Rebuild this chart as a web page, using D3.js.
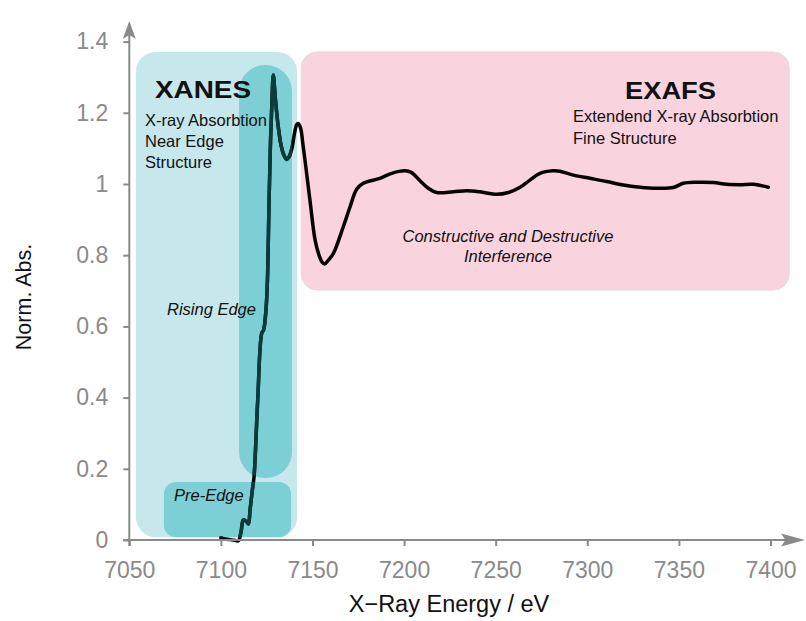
<!DOCTYPE html>
<html>
<head>
<meta charset="utf-8">
<script src="https://cdn.jsdelivr.net/npm/d3@7/dist/d3.min.js"></script>
<style>
  html, body { margin: 0; padding: 0; background: #ffffff; }
  svg { display: block; font-family: "Liberation Sans", Arial, Helvetica, sans-serif; }
</style>
</head>
<body>
<svg id="chart" width="806" height="621"></svg>
<script>
// X-ray absorption spectrum: photon energy (eV) and normalised absorbance
const energy = [
  7100.0, 7102.5, 7105.0, 7107.5, 7109.5, 7111.0, 7112.2, 7113.7, 7115.0, 7115.9,
  7117.4, 7118.1, 7120.1, 7122.3, 7123.3, 7124.6, 7125.4, 7126.3, 7127.1, 7127.9,
  7128.6, 7129.8, 7131.3, 7132.8, 7134.4, 7135.9, 7137.2, 7138.8, 7140.2, 7141.3,
  7142.2, 7143.5, 7144.8, 7145.9, 7148.6, 7151.4, 7153.5, 7155.2, 7156.6, 7158.5,
  7161.4, 7166.8, 7170.5, 7174.1, 7177.7, 7186.8, 7193.2, 7200.5, 7204.1, 7208.7,
  7213.2, 7217.8, 7226.9, 7234.2, 7241.4, 7250.5, 7256.9, 7263.3, 7268.7, 7274.2,
  7281.4, 7285.0, 7292.4, 7301.5, 7310.6, 7319.7, 7328.8, 7337.9, 7346.9, 7352.4,
  7359.7, 7368.8, 7376.1, 7383.4, 7390.6, 7398.8
];
const absorbance = [
  0.006, 0.003, 0.001, -0.001, -0.002, 0.023, 0.056, 0.053, 0.045, 0.084,
  0.150, 0.178, 0.393, 0.581, 0.590, 0.646, 0.730, 0.955, 1.124, 1.236,
  1.306, 1.236, 1.161, 1.110, 1.081, 1.069, 1.076, 1.101, 1.143, 1.166,
  1.170, 1.157, 1.110, 1.067, 0.955, 0.843, 0.801, 0.781, 0.775, 0.785,
  0.805, 0.880, 0.936, 0.985, 1.002, 1.016, 1.030, 1.037, 1.032, 1.009,
  0.988, 0.976, 0.978, 0.981, 0.978, 0.971, 0.976, 0.991, 1.011, 1.030,
  1.037, 1.036, 1.025, 1.016, 1.007, 0.997, 0.991, 0.988, 0.990, 1.002,
  1.005, 1.004, 0.999, 0.998, 0.999, 0.991
];

// Axis ticks
const xTicks = [7050, 7100, 7150, 7200, 7250, 7300, 7350, 7400];
const yTicks = [0, 0.2, 0.4, 0.6, 0.8, 1, 1.2, 1.4];
const yTickLabels = ["0", "0.2", "0.4", "0.6", "0.8", "1", "1.2", "1.4"];

// Spectral regions as [eV start, eV end, absorbance low, absorbance high]
const xanesRegion  = [7053.6, 7141.6, 0.008, 1.371];
const exafsRegion  = [7143.8, 7410.2, 0.702, 1.371];
const risingRegion = [7109.9, 7138.8, 0.174, 1.334];
const preEdgeRegion = [7068.9, 7138.3, 0.008, 0.163];

const svg = d3.select("#chart");

const x = d3.scaleLinear().domain([7050, 7400]).range([129.3, 770.5]);
const y = d3.scaleLinear().domain([0, 1.4]).range([540, 41.6]);

function regionRect(g, r, radius, fill) {
  return g.append("rect")
    .attr("x", x(r[0]))
    .attr("y", y(r[3]))
    .attr("width", x(r[1]) - x(r[0]))
    .attr("height", y(r[2]) - y(r[3]))
    .attr("rx", radius).attr("ry", radius)
    .attr("fill", fill);
}

// Background regions
const bg = svg.append("g");
regionRect(bg, xanesRegion, 20, "#c6e7eb");
regionRect(bg, exafsRegion, 16, "#f9d3de").attr("stroke", "#e6dadd").attr("stroke-width", 1);
regionRect(bg, risingRegion, 26, "#7dcfd6");
regionRect(bg, preEdgeRegion, 12, "#7dcfd6");

// Clip that limits the tinted copy of the curve to the inner XANES boxes
const defs = svg.append("defs");
const clip = defs.append("clipPath").attr("id", "innerBoxes");
regionRect(clip, risingRegion, 26, "#000");
regionRect(clip, preEdgeRegion, 12, "#000");

const series = energy.map((e, i) => [e, absorbance[i]]);
const line = d3.line()
  .x(d => x(d[0]))
  .y(d => y(d[1]))
  .curve(d3.curveCatmullRom.alpha(0.5));

svg.append("path")
  .datum(series)
  .attr("d", line)
  .attr("fill", "none")
  .attr("stroke", "#050505")
  .attr("stroke-width", 3.5)
  .attr("stroke-linejoin", "round")
  .attr("stroke-linecap", "round");

svg.append("path")
  .datum(series)
  .attr("d", line)
  .attr("clip-path", "url(#innerBoxes)")
  .attr("fill", "none")
  .attr("stroke", "#0c3b3a")
  .attr("stroke-width", 3.5)
  .attr("stroke-linejoin", "round")
  .attr("stroke-linecap", "round");

// Axes
const axisColor = "#8a8a8a";

const yAxis = svg.append("g")
  .attr("transform", `translate(${x(7050)},0)`)
  .call(d3.axisLeft(y).tickValues(yTicks).tickSize(6).tickPadding(15)
    .tickFormat((d, i) => yTickLabels[i]));
const xAxis = svg.append("g")
  .attr("transform", `translate(0,${y(0)})`)
  .call(d3.axisBottom(x).tickValues(xTicks).tickSize(6).tickPadding(16)
    .tickFormat(d3.format("d")));

[xAxis, yAxis].forEach(g => {
  g.select(".domain").remove();
  g.selectAll(".tick line").attr("stroke", axisColor).attr("stroke-width", 2);
  g.selectAll(".tick text")
    .attr("fill", axisColor)
    .style("font-size", "23px")
    .style("font-family", "'Liberation Sans', Arial, Helvetica, sans-serif");
});

const x0 = x(7050), y0 = y(0);
svg.append("line")
  .attr("x1", x0).attr("x2", x0).attr("y1", y0 + 6).attr("y2", 34)
  .attr("stroke", axisColor).attr("stroke-width", 2);
svg.append("line")
  .attr("x1", x0 - 6).attr("x2", 788).attr("y1", y0).attr("y2", y0)
  .attr("stroke", axisColor).attr("stroke-width", 2);

// Arrow heads
svg.append("path")
  .attr("d", `M${x0},21 L${x0 + 6.5},39 L${x0},35 L${x0 - 6.5},39 Z`)
  .attr("fill", axisColor);
svg.append("path")
  .attr("d", `M805,${y0} L781,${y0 - 6.5} L785.5,${y0} L781,${y0 + 6.5} Z`)
  .attr("fill", axisColor);

// Axis titles
svg.append("text")
  .attr("transform", `translate(31,297) rotate(-90)`)
  .attr("text-anchor", "middle")
  .attr("fill", "#111")
  .style("font-size", "21.5px")
  .text("Norm. Abs.");
svg.append("text")
  .attr("x", 449).attr("y", 612)
  .attr("text-anchor", "middle")
  .attr("fill", "#111")
  .style("font-size", "23.5px")
  .text("X\u2212Ray Energy / eV");

// Region annotations
const ann = svg.append("g").attr("fill", "#111");
ann.append("text").attr("x", 155).attr("y", 98)
  .attr("textLength", 96).attr("lengthAdjust", "spacingAndGlyphs")
  .style("font-size", "24px").style("font-weight", "bold").text("XANES");
[["X-ray Absorbtion", 126], ["Near Edge", 147], ["Structure", 167.5]].forEach(([t, yy]) => {
  ann.append("text").attr("x", 145).attr("y", yy).style("font-size", "16.5px").text(t);
});

ann.append("text").attr("x", 625).attr("y", 99)
  .attr("textLength", 91).attr("lengthAdjust", "spacingAndGlyphs")
  .style("font-size", "24px").style("font-weight", "bold").text("EXAFS");
[["Extendend X-ray Absorbtion", 122], ["Fine Structure", 143.5]].forEach(([t, yy]) => {
  ann.append("text").attr("x", 573).attr("y", yy).style("font-size", "16.5px").text(t);
});

ann.append("text").attr("x", 508).attr("y", 242).attr("text-anchor", "middle")
  .style("font-size", "16.5px").style("font-style", "italic")
  .text("Constructive and Destructive");
ann.append("text").attr("x", 508).attr("y", 262).attr("text-anchor", "middle")
  .style("font-size", "16.5px").style("font-style", "italic")
  .text("Interference");

ann.append("text").attr("x", 167).attr("y", 315)
  .style("font-size", "16.5px").style("font-style", "italic").text("Rising Edge");
ann.append("text").attr("x", 174).attr("y", 501)
  .style("font-size", "16.5px").style("font-style", "italic").text("Pre-Edge");
</script>
</body>
</html>
